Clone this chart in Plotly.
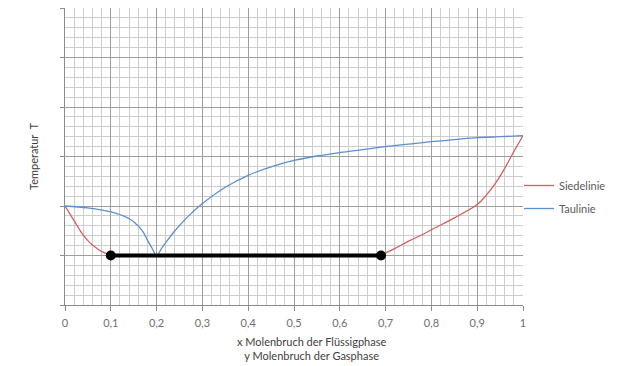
import plotly.graph_objects as go

# Siedelinie (boiling curve): two branches meeting the tie line at x=0.1 and x=0.69
siede_x = [0.0, 0.01, 0.02, 0.03, 0.04, 0.05, 0.06, 0.07, 0.08, 0.09, 0.10,
           None,
           0.69, 0.70, 0.72, 0.75, 0.78, 0.80, 0.85, 0.90, 0.92, 0.94, 0.96, 0.98, 1.00]
siede_y = [2.00, 1.85, 1.70, 1.55, 1.41, 1.30, 1.21, 1.14, 1.08, 1.04, 1.00,
           None,
           1.00, 1.05, 1.14, 1.29, 1.42, 1.52, 1.76, 2.03, 2.22, 2.46, 2.76, 3.10, 3.42]

# Taulinie (dew curve) with its minimum at x=0.2
tau_x = [0.0, 0.05, 0.10, 0.13, 0.15, 0.17, 0.18, 0.19, 0.20,
         0.21, 0.22, 0.24, 0.27, 0.30, 0.35, 0.40, 0.45, 0.50, 0.55, 0.60,
         0.65, 0.70, 0.75, 0.80, 0.85, 0.90, 0.95, 1.00]
tau_y = [2.00, 1.96, 1.88, 1.79, 1.68, 1.48, 1.31, 1.15, 1.00,
         1.13, 1.26, 1.50, 1.80, 2.05, 2.38, 2.62, 2.79, 2.92, 3.01, 3.08,
         3.14, 3.20, 3.25, 3.30, 3.34, 3.38, 3.40, 3.42]

# Tie line between liquid and vapour composition
tie_x = [0.10, 0.69]
tie_y = [1.0, 1.0]

x_tickvals = [0.0, 0.1, 0.2, 0.3, 0.4, 0.5, 0.6, 0.7, 0.8, 0.9, 1.0]
x_ticktext = ["0", "0,1", "0,2", "0,3", "0,4", "0,5", "0,6", "0,7", "0,8", "0,9", "1"]

FONT = "Lato"
W, H = 626, 366
ML, MR, MT, MB = 65, 103, 8, 61

fig = go.Figure()
fig.add_trace(go.Scatter(x=siede_x, y=siede_y, mode="lines", name="Siedelinie",
                         legendgroup="s", line=dict(color="#d0605c", width=1.3),
                         line_shape="spline", connectgaps=False))
fig.add_trace(go.Scatter(x=tau_x, y=tau_y, mode="lines", name="Taulinie",
                         legendgroup="t", line=dict(color="#5b8fcf", width=1.3),
                         line_shape="spline"))
fig.add_trace(go.Scatter(x=tie_x, y=tie_y, mode="lines+markers", showlegend=False,
                         line=dict(color="black", width=4),
                         marker=dict(color="black", size=10)))

def px_x(p):
    return (p - ML) / (W - ML - MR)

def px_y(p):
    return 1 - (p - MT) / (H - MT - MB)

fig.update_layout(
    width=W, height=H,
    margin=dict(l=ML, r=MR, t=MT, b=MB),
    paper_bgcolor="white", plot_bgcolor="white",
    font=dict(family=FONT, size=11, color="#595959"),
    legend=dict(x=px_x(519), xanchor="left", y=px_y(171), yanchor="top",
                tracegroupgap=4, font=dict(size=11, color="#595959"),
                bgcolor="rgba(0,0,0,0)"),
    xaxis=dict(range=[0, 1], tickvals=x_tickvals, ticktext=x_ticktext,
               showgrid=True, gridcolor="#9e9e9e", gridwidth=1,
               minor=dict(dtick=0.02, showgrid=True, gridcolor="#cdcdcd", gridwidth=1),
               showline=True, linecolor="#8c8c8c", linewidth=1,
               ticks="outside", ticklen=5, tickcolor="#8c8c8c",
               ticklabelstandoff=3,
               tickfont=dict(size=11, color="#6e6e6e"), zeroline=False),
    yaxis=dict(range=[0, 6], dtick=1, showticklabels=False,
               showgrid=True, gridcolor="#9e9e9e", gridwidth=1,
               minor=dict(dtick=0.2, showgrid=True, gridcolor="#cdcdcd", gridwidth=1),
               showline=True, linecolor="#8c8c8c", linewidth=1,
               ticks="outside", ticklen=4, tickcolor="#8c8c8c", zeroline=False),
    annotations=[
        dict(text="x Molenbruch der Flüssigphase<br>y Molenbruch der Gasphase",
             xref="paper", yref="paper", x=px_x(311), y=px_y(333),
             xanchor="center", yanchor="top", showarrow=False,
             font=dict(size=11, color="#404040")),
        dict(text="Temperatur  T", textangle=-90,
             xref="paper", yref="paper", x=px_x(33), y=px_y(157),
             xanchor="center", yanchor="middle", showarrow=False,
             font=dict(size=11, color="#404040")),
    ],
)

fig.write_html("out.html")
